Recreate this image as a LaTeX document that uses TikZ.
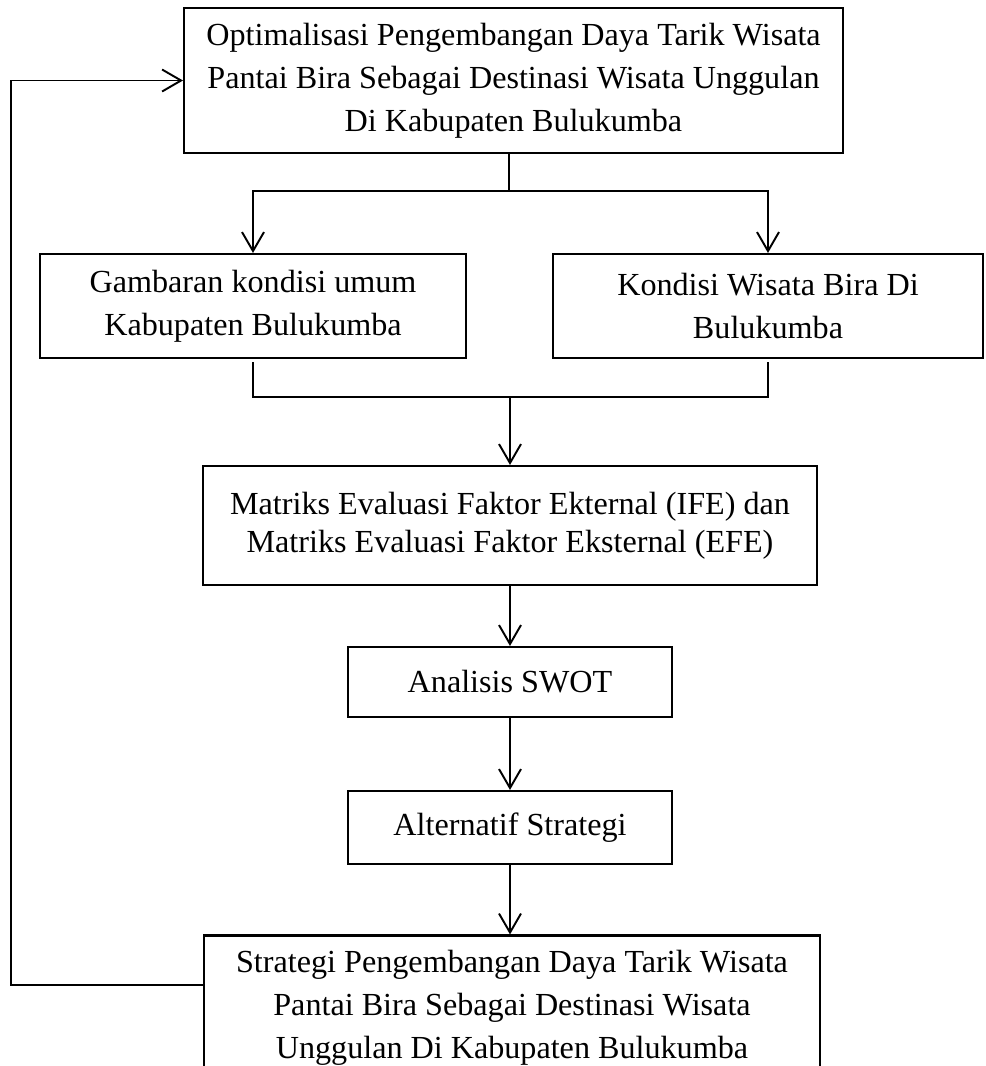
\documentclass[tikz,border=0pt]{standalone}
\usepackage{fontspec}
\setmainfont{Liberation Serif}
\usetikzlibrary{arrows.meta, positioning, calc}
\tikzset{
  block/.style={rectangle, draw=black, line width=1.2pt, align=center,
    font=\fontsize{18.3}{24.4}\selectfont, inner sep=0pt},
  arrow/.style={-{Straight Barb[length=3.8mm, width=4.4mm]}, line width=1.1pt},
  line/.style={line width=0.7pt}
}

\begin{document}
\begin{tikzpicture}[x=0.02cm, y=-0.02cm]
  \clip (0,0) rectangle (985,1066);
  % boxes
  \node [block, minimum width=13.18cm, minimum height=2.9cm] (top) at (513.5,80.5)
    {Optimalisasi Pengembangan Daya Tarik Wisata\\Pantai Bira Sebagai Destinasi Wisata Unggulan\\Di Kabupaten Bulukumba};
  \node [block, minimum width=8.52cm, minimum height=2.08cm] (kiri) at (253,306)
    {Gambaran kondisi umum\\Kabupaten Bulukumba};
  \node [block, minimum width=8.6cm, minimum height=2.08cm] (kanan) at (768,306)
    {Kondisi Wisata Bira Di\\Bulukumba};
  \node [block, font=\fontsize{18.3}{21.8}\selectfont, minimum width=12.28cm, minimum height=2.38cm] (mat) at (510,525.5)
    {Matriks Evaluasi Faktor Ekternal (IFE) dan\\Matriks Evaluasi Faktor Eksternal (EFE)};
  \node [block, minimum width=6.48cm, minimum height=1.4cm] (swot) at (510,682)
    {Analisis SWOT};
  \node [block, minimum width=6.48cm, minimum height=1.46cm] (alt) at (510,827.5)
    {Alternatif Strategi};
  \node [block, minimum width=12.32cm, minimum height=2.9cm] (bawah) at (512,1008)
    {Strategi Pengembangan Daya Tarik Wisata\\Pantai Bira Sebagai Destinasi Wisata\\Unggulan Di Kabupaten Bulukumba};
  % connectors
  \coordinate (cabang) at (509,191);
  \coordinate (gabung) at (510,397);
  \coordinate (balik) at (11,985);
  \draw [line] (top.south -| cabang) -- (cabang);
  \draw [arrow] (cabang) -| (kiri.north);
  \draw [arrow] (cabang) -| (kanan.north);
  \draw [line] ([yshift=-0.06cm]kiri.south) |- (gabung) -| ([yshift=-0.06cm]kanan.south);
  \draw [arrow] (gabung) -- (mat.north);
  \draw [arrow] (mat) -- (swot);
  \draw [arrow] (swot) -- (alt);
  \draw [arrow] (alt.south) -- (alt.south |- bawah.north);
  \draw [arrow] (bawah.west |- balik) -- (balik) |- (top.west);
\end{tikzpicture}
\end{document}
